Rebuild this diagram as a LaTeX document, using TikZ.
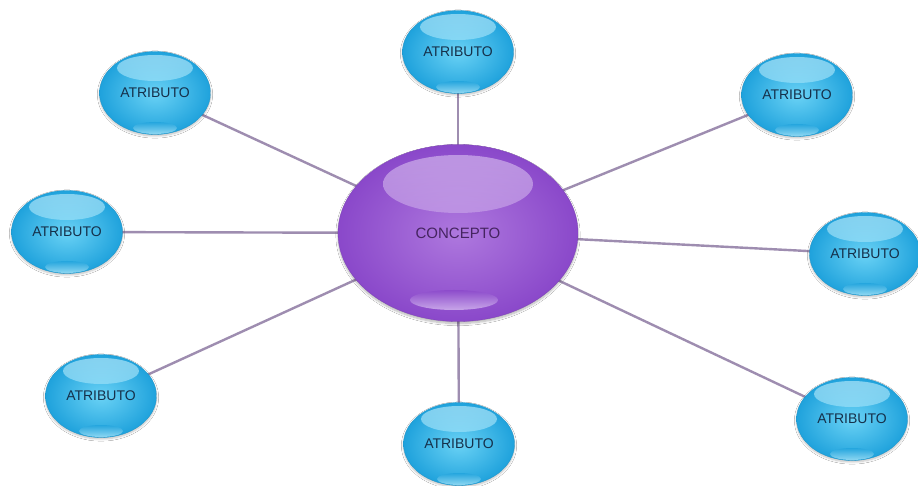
\documentclass[tikz,border=0pt]{standalone}
\usepackage{fontspec}
\setmainfont{Liberation Sans}
\usetikzlibrary{shapes.geometric,backgrounds,shadows.blur}
\definecolor{bin}{HTML}{6AD2F5}
\definecolor{bout}{HTML}{1FA2DC}
\definecolor{bhi}{HTML}{BDEEFC}
\definecolor{pin}{HTML}{AE78DE}
\definecolor{pout}{HTML}{8A48CA}
\definecolor{phi}{HTML}{DCC4F3}
\definecolor{linkc}{HTML}{9E8DB0}
\definecolor{btext}{HTML}{15304A}
\definecolor{ptext}{HTML}{452460}
\begin{document}
\begin{tikzpicture}[x=1pt,y=-1pt,
  attr/.style={ellipse, minimum width=111pt, minimum height=83pt, inner sep=0pt,
    draw=bout!90!black, line width=0.3pt, inner color=bin, outer color=bout,
    text=btext, font=\fontsize{14}{15}\selectfont,
    blur shadow={shadow xshift=0pt, shadow yshift=-1.5pt, shadow blur steps=6, shadow opacity=25},
    path picture={
      \shade[top color=white!55!bin, bottom color=bin, fill opacity=0.65]
        ([yshift=25pt]path picture bounding box.center) ellipse (38pt and 13pt);
      \shade[top color=bout, bottom color=bhi, fill opacity=0.7]
        ([yshift=-35pt]path picture bounding box.center) ellipse (22pt and 6pt);
    }},
  concept/.style={ellipse, minimum width=240pt, minimum height=177pt, inner sep=0pt,
    draw=pout!90!black, line width=0.3pt, inner color=pin, outer color=pout,
    text=ptext, font=\fontsize{15}{16}\selectfont,
    blur shadow={shadow xshift=0pt, shadow yshift=-2pt, shadow blur steps=8, shadow opacity=30},
    path picture={
      \shade[top color=white!60!pin, bottom color=pin, fill opacity=0.6]
        ([yshift=49pt]path picture bounding box.center) ellipse (75pt and 29pt);
      \shade[top color=pout, bottom color=phi, fill opacity=0.75]
        ([yshift=-67pt,xshift=-4pt]path picture bounding box.center) ellipse (44pt and 10pt);
    }},
  link/.style={draw=linkc, line width=2.4pt}
]
\path[use as bounding box] (0,0) rectangle (918,486);
\node[concept] (c) at (458,233) {CONCEPTO};
\node[attr] (a1) at (458,52) {ATRIBUTO};
\node[attr] (a2) at (797,95) {ATRIBUTO};
\node[attr] (a3) at (865,254) {ATRIBUTO};
\node[attr] (a4) at (852,419) {ATRIBUTO};
\node[attr] (a5) at (459,444) {ATRIBUTO};
\node[attr] (a6) at (101,396) {ATRIBUTO};
\node[attr] (a7) at (67,232) {ATRIBUTO};
\node[attr] (a8) at (155,93) {ATRIBUTO};
\begin{scope}[on background layer]
  \fill[white] (0,0) rectangle (918,486);
  \foreach \a in {a1,a2,a3,a4,a5,a6,a7,a8}
    \draw[link] (c.center) -- (\a.center);
\end{scope}
\end{tikzpicture}
\end{document}
